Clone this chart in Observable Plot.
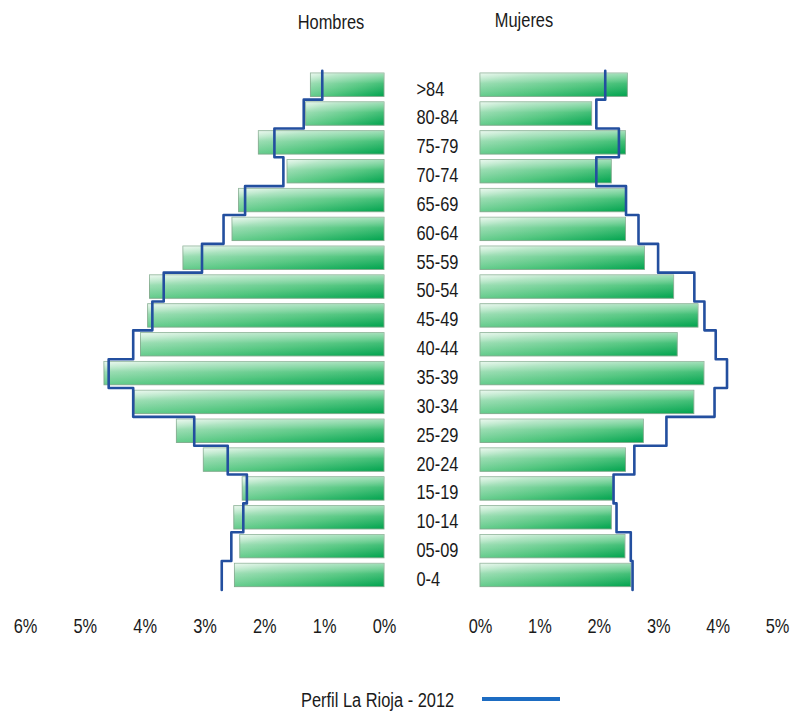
<!DOCTYPE html>
<html><head><meta charset="utf-8">
<script src="https://cdn.jsdelivr.net/npm/d3@7"></script>
<script src="https://cdn.jsdelivr.net/npm/@observablehq/plot@0.6"></script>
<style>
body{margin:0;background:#fff;}
#wrap{position:relative;width:794px;height:716px;overflow:hidden;font-family:"Liberation Sans",Arial,sans-serif;color:#1a1a1a;}
.hdr{position:absolute;font-size:20px;line-height:20px;transform:translateX(-50%) scaleX(0.82);white-space:nowrap;}
#left,#right{position:absolute;top:0;}
#left{left:0}
#right{left:400px}
#legtext{position:absolute;left:301px;top:690px;font-size:20px;line-height:20px;white-space:nowrap;transform-origin:0 50%;transform:scaleX(0.82);}
#legsw{position:absolute;left:482px;top:697px;width:78px;height:4px;background:#1d6cc2;}
</style></head>
<body>
<div id="wrap">
  <div class="hdr" style="left:331px;top:12px">Hombres</div>
  <div class="hdr" style="left:524px;top:10px">Mujeres</div>
  <div id="left"></div>
  <div id="right"></div>
  <div id="legtext">Perfil La Rioja - 2012</div>
  <div id="legsw"></div>
</div>
<script>
const ages = [">84","80-84","75-79","70-74","65-69","60-64","55-59","50-54","45-49","40-44","35-39","30-34","25-29","20-24","15-19","10-14","05-09","0-4"];
const hombres = [1.23,1.31,2.10,1.62,2.43,2.54,3.36,3.92,3.95,4.07,4.68,4.17,3.47,3.02,2.37,2.51,2.41,2.50];
const hombresPerfil = [1.04,1.35,1.84,1.69,2.33,2.69,3.05,3.69,3.88,4.20,4.61,4.20,3.18,2.62,2.30,2.36,2.56,2.72];
const mujeres = [2.48,1.88,2.45,2.21,2.45,2.45,2.77,3.26,3.67,3.32,3.77,3.60,2.75,2.45,2.24,2.21,2.44,2.54];
const mujeresPerfil = [2.10,1.95,2.33,1.95,2.45,2.66,2.99,3.60,3.77,3.96,4.15,3.94,3.13,2.59,2.24,2.29,2.53,2.56];
const leftTicks = [6,5,4,3,2,1,0];
const rightTicks = [0,1,2,3,4,5];

const FONT = '"Liberation Sans",Arial,sans-serif';

function defs(gid) {
  return () => {
    const d = d3.create("svg:defs");
    const g = d.append("linearGradient").attr("id", gid)
      .attr("x1", 0).attr("y1", 0).attr("x2", 1).attr("y2", 1);
    [[0,"#dcf3e3"],[0.22,"#97dcb0"],[0.6,"#52c67f"],[1,"#00a34e"]]
      .forEach(([o,c]) => g.append("stop").attr("offset", o).attr("stop-color", c));
    const h = d.append("linearGradient").attr("id", gid + "h")
      .attr("x1", 0).attr("y1", 0).attr("x2", 0).attr("y2", 1);
    [[0,"#ffffff",0.4],[0.45,"#ffffff",0.05],[1,"#ffffff",0]]
      .forEach(([o,c,a]) => h.append("stop").attr("offset", o).attr("stop-color", c).attr("stop-opacity", a));
    return d.node();
  };
}

function panel({values, perfil, domain, ticks, width, marginLeft, marginRight, gid, labels}) {
  const rows = ages.map((a, i) => ({age: a, i, v: values[i]}));
  const pts = perfil.flatMap((v, i) => [{x: v, y: i - 0.5}, {x: v, y: i + 0.5}]);
  const marks = [
    defs(gid),
    Plot.rect(rows, {x1: 0, x2: "v", y1: d => d.i - 0.405, y2: d => d.i + 0.405,
      fill: `url(#${gid})`, stroke: "#7fa98b", strokeWidth: 0.9}),
    Plot.rect(rows, {x1: 0, x2: "v", y1: d => d.i - 0.405, y2: d => d.i + 0.405,
      fill: `url(#${gid}h)`}),
    Plot.line(pts, {x: "x", y: "y", stroke: "#234f9f", strokeWidth: 2.6, curve: "linear"}),
    Plot.axisX({ticks, tickSize: 0, tickPadding: 29, tickFormat: d => d + "%", fontSize: 20})
  ];
  if (labels) {
    marks.push(Plot.text(rows, {x: 0, y: "i", text: "age", textAnchor: "start", dx: -64, dy: 4, fontSize: 20, fill: "#1a1a1a"}));
  }
  return Plot.plot({
    width, height: 650, marginLeft, marginRight, marginTop: 70.3, marginBottom: 60.6,
    style: {fontFamily: FONT, fontSize: "20px", color: "#1a1a1a", background: "transparent", overflow: "visible"},
    x: {domain, axis: null},
    y: {domain: [-0.5, 17.5], reverse: true, axis: null},
    marks
  });
}

function narrow(svg, k) {
  svg.querySelectorAll("text").forEach(t => {
    const b = t.getBBox();
    const a = getComputedStyle(t).textAnchor;
    const cx = a === "start" ? b.x : a === "end" ? b.x + b.width : b.x + b.width / 2;
    const old = t.getAttribute("transform") || "";
    t.setAttribute("transform", `${old} translate(${cx},0) scale(${k},1) translate(${-cx},0)`.trim());
  });
}

const L = panel({
  values: hombres, perfil: hombresPerfil, domain: [6, 0], ticks: leftTicks,
  width: 400, marginLeft: 25, marginRight: 16, gid: "gl", labels: false
});
const R = panel({
  values: mujeres, perfil: mujeresPerfil, domain: [0, 5], ticks: rightTicks,
  width: 394, marginLeft: 80, marginRight: 17, gid: "gr", labels: true
});
document.getElementById("left").append(L);
document.getElementById("right").append(R);
narrow(L, 0.82);
narrow(R, 0.82);
</script>
</body></html>
